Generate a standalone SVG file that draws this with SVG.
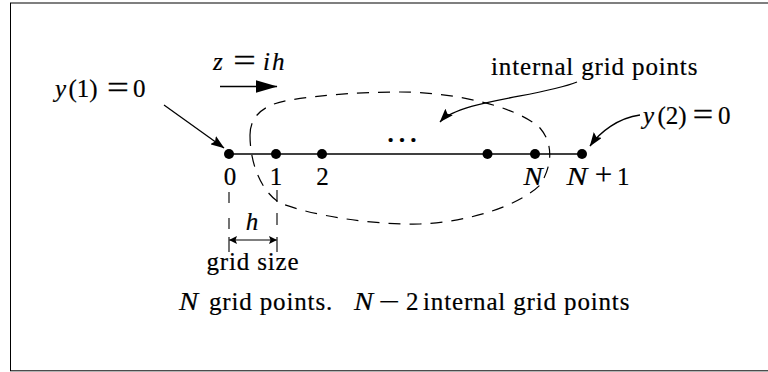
<svg xmlns="http://www.w3.org/2000/svg" width="768" height="372" viewBox="0 0 768 372">
<defs>
<style>
.t{font-family:"Liberation Serif","Times New Roman",serif;font-size:25px;fill:#000;stroke:#000;stroke-width:0.2px}
.i{font-style:italic}
.r{letter-spacing:0.85px}
.c{text-anchor:middle}
.ln{fill:none;stroke:#000;stroke-width:1.3}
.dash{fill:none;stroke:#000;stroke-width:1.2;stroke-dasharray:12 9}
.dot{fill:#000}
</style>
<marker id="ah" markerUnits="userSpaceOnUse" viewBox="0 0 14 10" markerWidth="14" markerHeight="10" refX="13.5" refY="5" orient="auto"><path d="M0,0 L14,5 L0,10 L2.5,5 Z"/></marker>
<marker id="big" markerUnits="userSpaceOnUse" viewBox="0 0 22 13" markerWidth="22" markerHeight="13" refX="21.5" refY="6.5" orient="auto"><path d="M0,0 L22,6.5 L0,13 Z"/></marker>
<marker id="sm" markerUnits="userSpaceOnUse" viewBox="0 0 8 8" markerWidth="8" markerHeight="8" refX="7.5" refY="4" orient="auto-start-reverse"><path d="M0,0 L8,4 L0,8 L1.5,4 Z"/></marker>
</defs>
<rect id="frame" x="10.5" y="3" width="780" height="367.8" fill="none" stroke="#000" stroke-width="1"/>

<g id="region-internal">
<path class="dash" d="M250,135 C250,115 265,104 290,100 C320,95 360,92 400,92 C450,92 515,105 540,128 C553,143 553,165 540,185 C520,205 470,222 420,224 C370,225 310,215 280,203 C262,192 250,165 250,135 Z"/>
</g>

<g id="axis">
<path class="ln" d="M229,154 H582"/>
</g>

<g id="point-0"><circle class="dot" cx="229" cy="154" r="5"/><text class="t c" x="230" y="185">0</text></g>
<g id="point-1"><circle class="dot" cx="276" cy="154" r="5"/><text class="t c" x="276" y="185">1</text></g>
<g id="point-2"><circle class="dot" cx="322" cy="154" r="5"/><text class="t c" x="322.5" y="185">2</text></g>
<g id="dots-ellipsis"><text class="t c" x="402" y="142" style="font-size:34px">…</text></g>
<g id="point-n-1"><circle class="dot" cx="487.5" cy="154" r="5"/></g>
<g id="point-n"><circle class="dot" cx="535" cy="154" r="5"/><text class="t i c" transform="translate(533 185) scale(1.15 1)">N</text></g>
<g id="point-n1"><circle class="dot" cx="582" cy="154" r="5"/>
<text class="t i c" transform="translate(577 185) scale(1.25 1)">N</text>
<text class="t c" x="603.5" y="185" style="font-size:31px">+</text>
<text class="t" x="617" y="185">1</text></g>

<g id="label-zih">
<text class="t i" x="213" y="70">z</text>
<text class="t c" transform="translate(244.5 71) scale(1.6 1.3)">=</text>
<text class="t i" x="263" y="70" style="letter-spacing:2px">ih</text>
</g>

<g id="label-y1">
<text class="t i" x="55" y="97">y</text>
<text class="t" x="68.5" y="97">(1)</text>
<text class="t c" transform="translate(118 98) scale(1.55 1.3)">=</text>
<text class="t" x="133" y="97">0</text>
</g>

<g id="label-y2">
<text class="t i" x="643" y="124">y</text>
<text class="t" x="657.5" y="124">(2)</text>
<text class="t c" transform="translate(703 125) scale(1.45 1.3)">=</text>
<text class="t" x="718" y="124">0</text>
</g>

<g id="label-internal">
<text class="t r" x="491" y="75">internal grid points</text>
</g>

<g id="grid-size">
<path class="ln" d="M229,192 V203 M229,218 V229 M229,237 V252 M277,190 V202 M277,213 V225 M277,237 V252" style="stroke-width:1.1"/>
<text class="t i c" x="252" y="230">h</text>
<text class="t r c" x="253" y="270">grid size</text>
</g>

<g id="caption">
<text class="t i" transform="translate(179 310) scale(1.15 1)">N</text>
<text class="t r" x="209" y="310">grid points.</text>
<text class="t i" transform="translate(354 310) scale(1.15 1)">N</text>
<text class="t c" transform="translate(389 310) scale(1.5 1)">−</text>
<text class="t" x="406" y="310">2</text>
<text class="t r" x="423" y="310">internal grid points</text>
</g>

<g id="connectors">
<path class="ln" d="M164,105 L224,148" marker-end="url(#ah)"/>
<path class="ln" d="M577,82 C540,97 460,100 440,122" marker-end="url(#ah)"/>
<path class="ln" d="M640,115 C618,118 600,132 590,146" marker-end="url(#ah)"/>
<path class="ln" d="M220,86.5 H277" marker-end="url(#big)"/>
<path class="ln" d="M229.5,240 H276.5" style="stroke-width:1.1" marker-start="url(#sm)" marker-end="url(#sm)"/>
</g>
</svg>
